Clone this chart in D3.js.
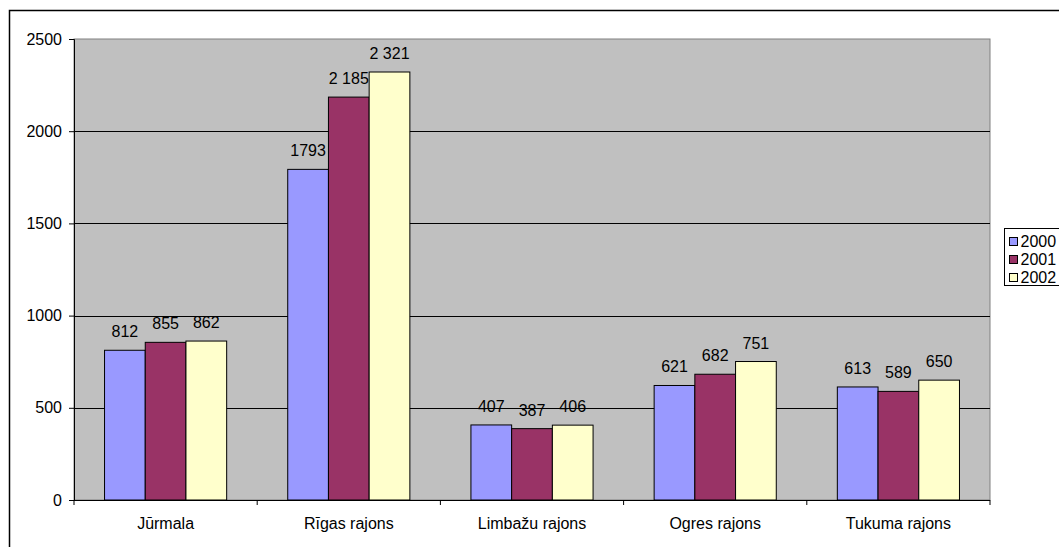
<!DOCTYPE html>
<html>
<head>
    <meta charset="utf-8">
    <script src="https://d3js.org/d3.v7.min.js"></script>
    <style>
        body { margin: 0; background: #fff; overflow: hidden; }
        svg text { font-family: "Liberation Sans", Arial, sans-serif; }
    </style>
</head>
<body>
<svg id="chart" width="1059" height="547"></svg>
<script>
// dati
const categories = ["Jūrmala", "Rīgas rajons", "Limbažu rajons", "Ogres rajons", "Tukuma rajons"];
const years = ["2000", "2001", "2002"];
const values2000 = [812, 1793, 407, 621, 613];
const values2001 = [855, 2185, 387, 682, 589];
const values2002 = [862, 2321, 406, 751, 650];
const labels2000 = ["812", "1793", "407", "621", "613"];
const labels2001 = ["855", "2 185", "387", "682", "589"];
const labels2002 = ["862", "2 321", "406", "751", "650"];
const yTicks = [0, 500, 1000, 1500, 2000, 2500];
const colors = ["#9999FF", "#993366", "#FFFFCC"];

const series = [values2000, values2001, values2002];
const seriesLabels = [labels2000, labels2001, labels2002];

const fontSize = 16;
const svg = d3.select("#chart");
const plotLeft = 74, plotRight = 990, plotTop = 39, plotBottom = 500;

// ārējais rāmis
svg.append("rect")
    .attr("x", 9.5).attr("y", 10.5)
    .attr("width", 1100).attr("height", 600)
    .attr("fill", "none").attr("stroke", "#000").attr("stroke-width", 1.5);

const x0 = d3.scaleBand().domain(categories).range([plotLeft, plotRight]);
const x1 = d3.scaleBand().domain(years).range([0, x0.bandwidth()])
    .paddingInner(0).paddingOuter(0.75);
const y = d3.scaleLinear().domain([0, 2500]).range([plotBottom, plotTop]);

// laukums
svg.append("rect")
    .attr("x", plotLeft).attr("y", plotTop)
    .attr("width", plotRight - plotLeft).attr("height", plotBottom - plotTop)
    .attr("fill", "#C0C0C0").attr("stroke", "#808080").attr("stroke-width", 1);

// režģa līnijas
svg.append("g").selectAll("line")
    .data(yTicks.filter(d => d > 0 && d < 2500))
    .enter().append("line")
    .attr("x1", plotLeft).attr("x2", plotRight)
    .attr("y1", d => Math.round(y(d)) + 0.5).attr("y2", d => Math.round(y(d)) + 0.5)
    .attr("stroke", "#000").attr("stroke-width", 1);

// stabiņi
years.forEach((yr, i) => {
    const g = svg.append("g");
    g.selectAll("rect")
        .data(categories)
        .enter().append("rect")
        .attr("x", d => x0(d) + x1(yr))
        .attr("y", (d, j) => y(series[i][j]))
        .attr("width", x1.bandwidth())
        .attr("height", (d, j) => plotBottom - y(series[i][j]))
        .attr("fill", colors[i])
        .attr("stroke", "#000").attr("stroke-width", 1);
    g.selectAll("text")
        .data(categories)
        .enter().append("text")
        .attr("x", d => x0(d) + x1(yr) + x1.bandwidth() / 2)
        .attr("y", (d, j) => y(series[i][j]) - 13)
        .attr("text-anchor", "middle")
        .attr("font-size", fontSize)
        .attr("fill", "#000")
        .text((d, j) => seriesLabels[i][j]);
});

// asis
const yAxis = d3.axisLeft(y).tickValues(yTicks).tickSize(5).tickPadding(7).tickFormat(d3.format("d"));
const ya = svg.append("g").attr("transform", `translate(${plotLeft},0)`).call(yAxis);
ya.select(".domain").attr("stroke", "#000");
ya.selectAll("text").attr("font-size", fontSize).attr("font-family", "Liberation Sans, Arial, sans-serif");

const xa = svg.append("g").attr("transform", `translate(0,${plotBottom})`);
xa.append("line").attr("x1", plotLeft).attr("x2", plotRight).attr("y1", 0.5).attr("y2", 0.5).attr("stroke", "#000");
xa.selectAll("line.tk")
    .data(d3.range(categories.length + 1))
    .enter().append("line")
    .attr("class", "tk")
    .attr("x1", d => plotLeft + d * x0.step()).attr("x2", d => plotLeft + d * x0.step())
    .attr("y1", 0).attr("y2", 5)
    .attr("stroke", "#000");
xa.selectAll("text")
    .data(categories)
    .enter().append("text")
    .attr("x", d => x0(d) + x0.bandwidth() / 2)
    .attr("y", 29)
    .attr("text-anchor", "middle")
    .attr("font-size", fontSize)
    .text(d => d);

// leģenda
const legend = svg.append("g").attr("transform", "translate(1004.5,228.5)");
legend.append("rect").attr("width", 80).attr("height", 57)
    .attr("fill", "#fff").attr("stroke", "#000");
years.forEach((yr, i) => {
    legend.append("rect")
        .attr("x", 5).attr("y", 9 + i * 18)
        .attr("width", 8).attr("height", 8)
        .attr("fill", colors[i]).attr("stroke", "#000");
    legend.append("text")
        .attr("x", 16).attr("y", 18 + i * 18)
        .attr("font-size", fontSize)
        .text(yr);
});
</script>
</body>
</html>
